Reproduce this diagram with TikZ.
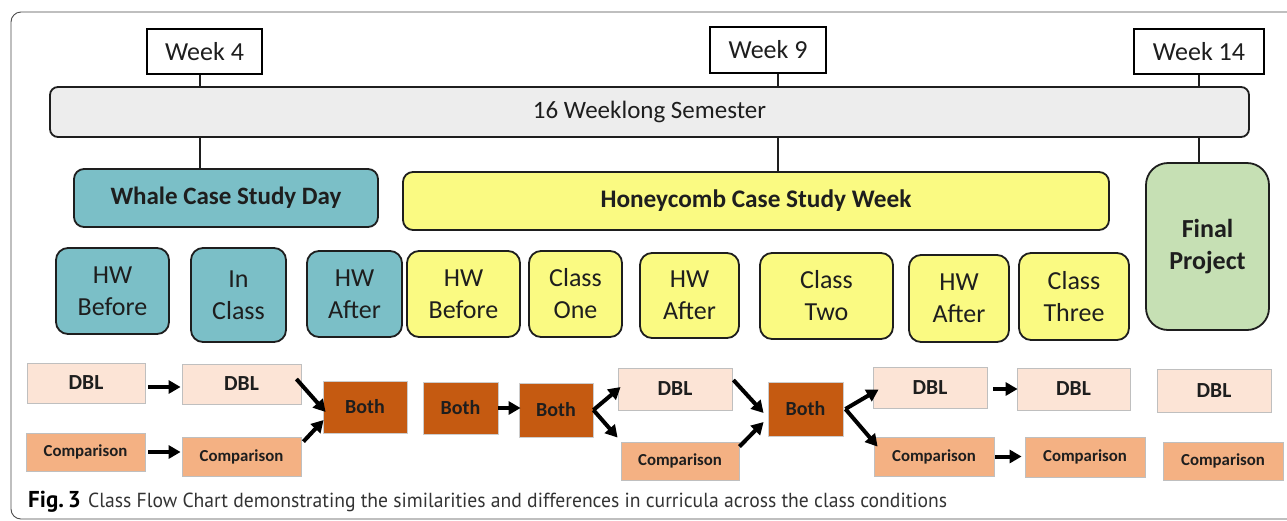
\documentclass[tikz,border=0pt]{standalone}
\usepackage{fontspec}
\setmainfont{Carlito}
\newfontfamily\capfont{PT Sans}
\usetikzlibrary{arrows.meta}
\definecolor{tealc}{HTML}{7BBFC7}
\definecolor{yelc}{HTML}{FAFA82}
\definecolor{greenc}{HTML}{C6E0B4}
\definecolor{barc}{HTML}{EDEDED}
\definecolor{dblc}{HTML}{FCE4D6}
\definecolor{cmpc}{HTML}{F4B183}
\definecolor{bothc}{HTML}{C55A11}
\definecolor{inkc}{HTML}{1E1E1E}
\definecolor{capc}{HTML}{333333}
\begin{document}
\begin{tikzpicture}[x=1pt,y=-1pt,
  week/.style={draw=black, line width=1.2pt, fill=white, inner sep=0pt, text=inkc, font=\fontsize{26}{30}\selectfont},
  rbox/.style={draw=inkc, line width=1.8pt, rounded corners=12pt, inner sep=0pt, align=center, text=inkc, font=\fontsize{26}{32}\selectfont},
  tealbox/.style={rbox, fill=tealc},
  yelbox/.style={rbox, fill=yelc},
  flat/.style={draw=black!25, line width=0.8pt, inner sep=0pt, text=inkc, font=\bfseries\fontsize{21.5}{24}\selectfont},
  dblbox/.style={flat, fill=dblc},
  cmpbox/.style={flat, fill=cmpc, font=\bfseries\fontsize{16.8}{20}\selectfont},
  bothbox/.style={flat, fill=bothc, draw=black!20, font=\bfseries\fontsize{20}{24}\selectfont},
  arr/.style={line width=4pt, draw=black, -{Triangle[length=12pt,width=13pt]}},
  conn/.style={line width=1.2pt, draw=inkc}]
\useasboundingbox (0,0) rectangle (1287,520);
\clip (0,0) rectangle (1287,520);
\fill[white] (0,0) rectangle (1287,520);
% outer frame
\draw[black!70, line width=0.9pt, rounded corners=10pt] (1300,12) -- (11,12) -- (11,519) -- (1300,519);

% week boxes
\node[week, minimum width=115pt, minimum height=45pt] (week4) at (204.5,51.5) {Week 4};
\node[week, minimum width=116pt, minimum height=46pt] (week9) at (768,50) {Week 9};
\node[week, minimum width=130pt, minimum height=45pt] (week14) at (1199,51.5) {Week 14};

% semester bar
\node[rbox, fill=barc, rounded corners=8pt, minimum width=1199pt, minimum height=50pt, font=\fontsize{25}{30}\selectfont] (bar) at (649.5,112) {16 Weeklong Semester};

% case study blocks
\node[tealbox, rounded corners=10pt, minimum width=304pt, minimum height=58pt, font=\bfseries\fontsize{25}{30}\selectfont] (whale) at (226,198) {Whale Case Study Day};
\node[yelbox, rounded corners=10pt, minimum width=706pt, minimum height=58pt, font=\bfseries\fontsize{25.3}{30}\selectfont] (honey) at (756,201) {Honeycomb Case Study Week};
\node[rbox, fill=greenc, rounded corners=22pt, minimum width=123pt, minimum height=167pt, font=\bfseries\fontsize{26}{32}\selectfont] (final) at (1207.5,246.5) {Final\\Project};

% connectors to the bar
\coordinate (l4) at (200,0);
\coordinate (l9) at (778,0);
\draw[conn] (week4.south -| l4) -- (bar.north -| l4);
\draw[conn] (bar.south -| l4) -- (whale.north -| l4);
\draw[conn] (week9.south -| l9) -- (bar.north -| l9);
\draw[conn] (bar.south -| l9) -- (honey.north -| l9);
\draw[conn] (week14.south) -- (bar.north -| week14.south);
\draw[conn] (bar.south -| week14.south) -- (final.north -| week14.south);

% activity boxes
\node[tealbox, minimum width=113pt, minimum height=86pt] (hwb1) at (112.5,291) {HW\\Before};
\node[tealbox, minimum width=95pt, minimum height=94pt] (incl) at (238.5,295) {In\\Class};
\node[tealbox, minimum width=95pt, minimum height=86pt] (hwa1) at (354.5,294) {HW\\After};
\node[yelbox, minimum width=113pt, minimum height=86pt] (hwb2) at (463.5,294) {HW\\Before};
\node[yelbox, minimum width=93pt, minimum height=86pt] (cl1) at (575.5,294) {Class\\One};
\node[yelbox, minimum width=99pt, minimum height=85pt] (hwa2) at (689.5,295.5) {HW\\After};
\node[yelbox, minimum width=133pt, minimum height=86pt] (cl2) at (826.5,296) {Class\\Two};
\node[yelbox, minimum width=100pt, minimum height=87pt] (hwa3) at (959,298.5) {HW\\After};
\node[yelbox, minimum width=110pt, minimum height=87pt] (cl3) at (1074,296.5) {Class\\Three};

% condition boxes
\node[dblbox, minimum width=118pt, minimum height=40pt] (dbl1) at (86,383) {DBL};
\node[dblbox, minimum width=119pt, minimum height=40pt] (dbl2) at (241.5,384) {DBL};
\node[cmpbox, minimum width=119pt, minimum height=38pt] (cmp1) at (85.5,452) {Comparison};
\node[cmpbox, minimum width=119pt, minimum height=39pt] (cmp2) at (241.5,456.5) {Comparison};
\node[bothbox, minimum width=84pt, minimum height=52pt] (both1) at (365,407) {Both};
\node[bothbox, minimum width=75pt, minimum height=52pt] (both2) at (460.5,408) {Both};
\node[bothbox, minimum width=74pt, minimum height=54pt] (both3) at (556,410) {Both};
\node[dblbox, minimum width=114pt, minimum height=42pt] (dbl3) at (675,389) {DBL};
\node[cmpbox, minimum width=118pt, minimum height=38pt] (cmp3) at (680,461) {Comparison};
\node[bothbox, minimum width=75pt, minimum height=54pt] (both4) at (805.5,409) {Both};
\node[dblbox, minimum width=114pt, minimum height=41pt] (dbl4) at (930,387.5) {DBL};
\node[cmpbox, minimum width=120pt, minimum height=39pt] (cmp4) at (934,456.5) {Comparison};
\node[dblbox, minimum width=113pt, minimum height=42pt] (dbl5) at (1073.5,389) {DBL};
\node[cmpbox, minimum width=120pt, minimum height=40pt] (cmp5) at (1085,457) {Comparison};
\node[dblbox, minimum width=114pt, minimum height=43pt] (dbl6) at (1214,390.5) {DBL};
\node[cmpbox, minimum width=120pt, minimum height=38pt] (cmp6) at (1223,461) {Comparison};

% arrows
\draw[arr] ([xshift=3pt,yshift=-4pt]dbl1.east) -- ([xshift=-1pt,yshift=-4pt]dbl1.east -| dbl2.west);
\draw[arr] ([xshift=3pt]cmp1.east) -- ([xshift=-1pt]cmp1.east -| cmp2.west);
\draw[arr] ([xshift=-5pt,yshift=5pt]dbl2.east) -- ([xshift=3pt,yshift=-5pt]both1.west);
\draw[arr] ([xshift=2pt,yshift=-5pt]cmp2.north east) -- ([xshift=1pt,yshift=-13pt]both1.west);
\draw[arr] (both2.east) -- ([xshift=2pt]both2.east -| both3.west);
\draw[arr] (both3.east) -- ([xshift=3pt,yshift=2pt]dbl3.west);
\draw[arr] (both3.east) -- ([xshift=-3pt,yshift=4pt]cmp3.north west);
\draw[arr] ([xshift=1pt,yshift=9pt]dbl3.east) -- ([xshift=-4pt,yshift=-4pt]both4.west);
\draw[arr] ([yshift=-5pt]cmp3.north east) -- ([xshift=-4pt,yshift=-13pt]both4.west);
\draw[arr] ([xshift=2pt]both4.east) -- ([xshift=6pt,yshift=-2pt]dbl4.west);
\draw[arr] ([xshift=2pt]both4.east) -- ([xshift=4pt,yshift=-10pt]cmp4.north west);
\draw[arr] ([xshift=6pt,yshift=-1.5pt]dbl4.east) -- ([xshift=1pt,yshift=-1.5pt]dbl4.east -| dbl5.west);
\draw[arr] ([xshift=1pt]cmp4.east) -- ([xshift=-3pt]cmp4.east -| cmp5.west);

% caption
\node[anchor=base west, inner sep=0pt, text=black] (fig) at (28,507) {\capfont\bfseries\fontsize{23}{23}\selectfont Fig.\,3};
\node[anchor=base west, inner sep=0pt, text=capc] (cap) at (88,507) {\capfont\fontsize{19}{19}\selectfont\resizebox{859pt}{14.5pt}{Class Flow Chart demonstrating the similarities and differences in curricula across the class conditions}};
\end{tikzpicture}
\end{document}
